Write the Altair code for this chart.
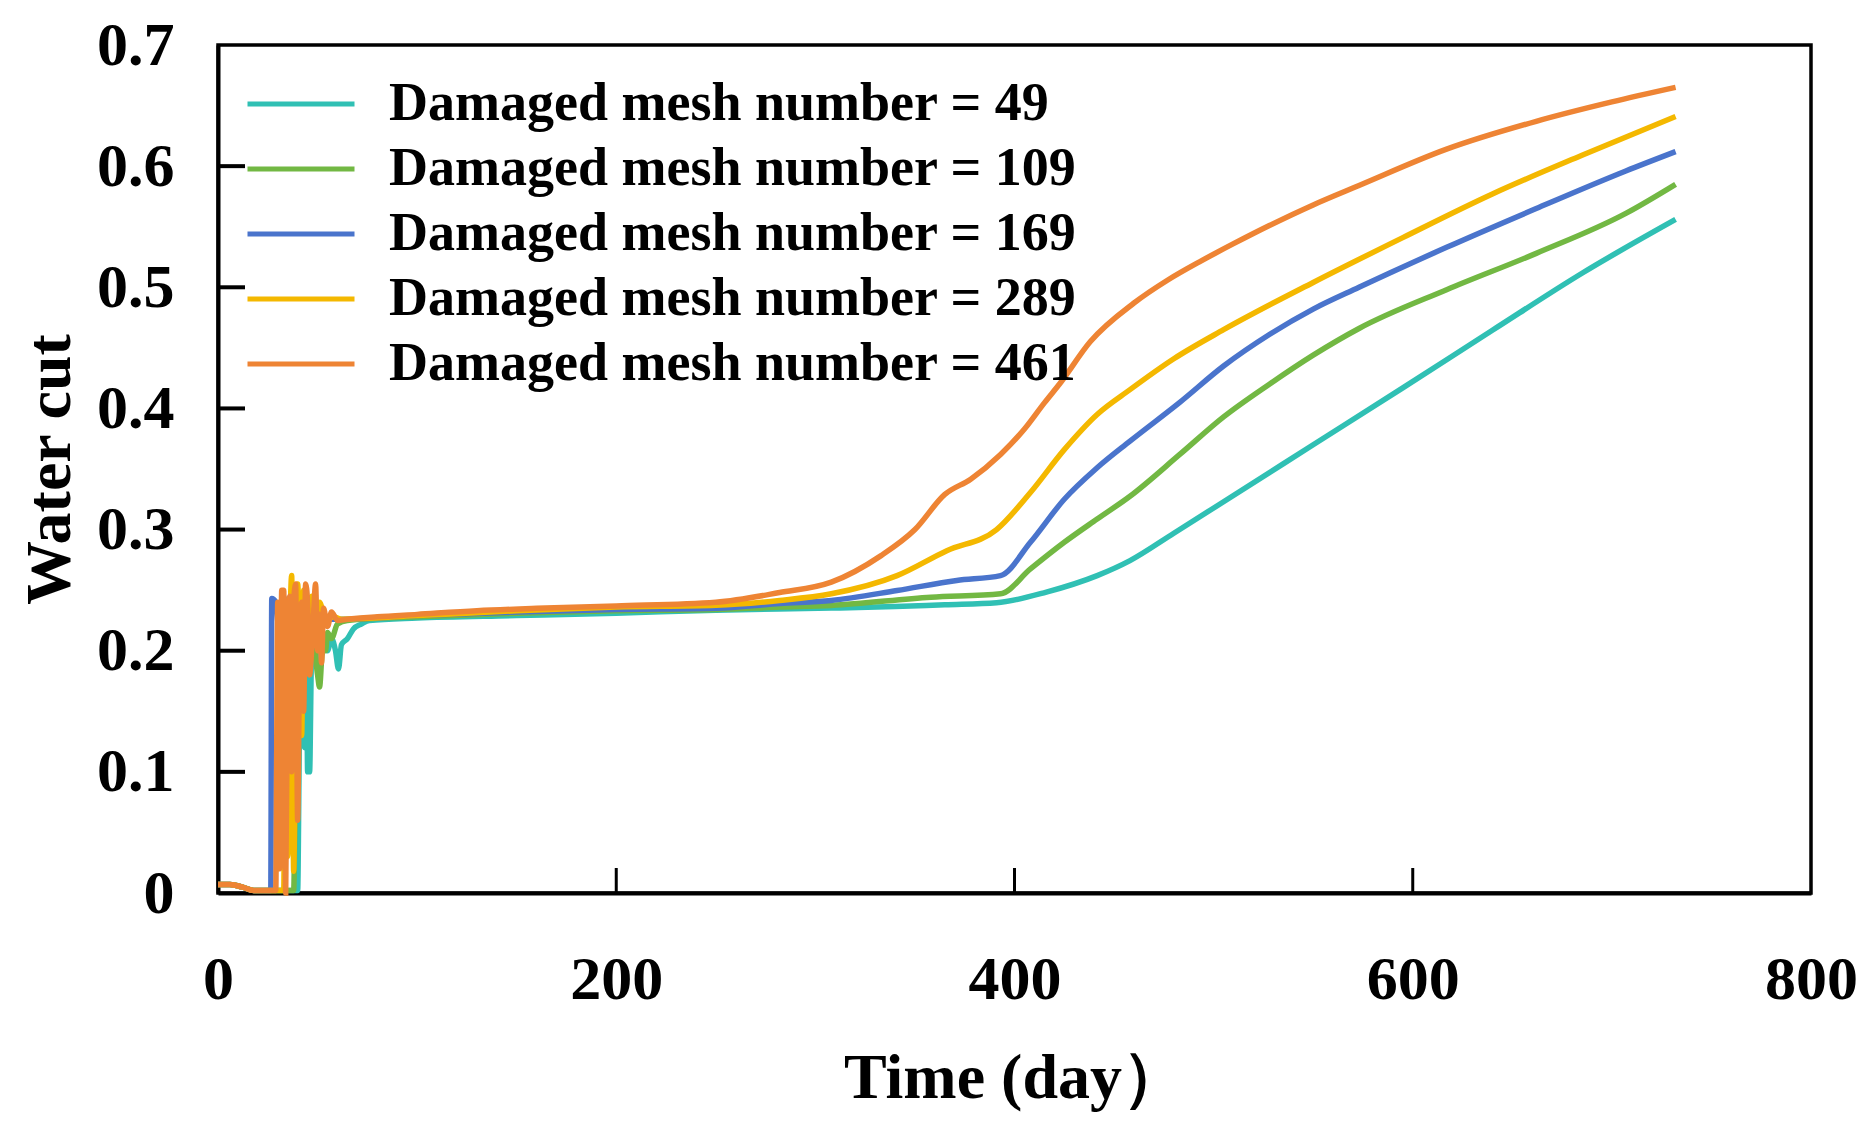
import altair as alt
import pandas as pd

# ---------------- data ----------------
labels = [
    "Damaged mesh number = 49",
    "Damaged mesh number = 109",
    "Damaged mesh number = 169",
    "Damaged mesh number = 289",
    "Damaged mesh number = 461",
]
colors = ["#30C0B4", "#72B843", "#4A74CC", "#F4B800", "#EE8434"]

days_49 = [0, 6, 12, 18, 40, 41, 42, 43.5, 44.5, 45, 46, 47, 49, 51, 53, 55, 57, 59, 60.5, 62, 65,
           68, 72, 76, 100, 150, 200, 250, 308, 340, 365, 391, 416, 441.5, 458, 480, 505, 550, 595,
           640, 685, 732]
wc_49 = [0.007, 0.007, 0.005, 0.002, 0.002, 0.14, 0.16, 0.12, 0.19, 0.10, 0.10, 0.195, 0.20, 0.19,
         0.205, 0.20, 0.21, 0.20, 0.185, 0.205, 0.21, 0.218, 0.222, 0.225, 0.227, 0.229, 0.231,
         0.2335, 0.2352, 0.2365, 0.238, 0.2396, 0.2484, 0.262, 0.2744, 0.297, 0.323, 0.370, 0.417,
         0.4645, 0.5116, 0.556]

days_109 = [0, 6, 12, 18, 38, 39, 40, 42, 44, 46, 48, 50, 51, 52.5, 54, 55, 57, 60, 65, 100, 150,
            200, 250, 282, 308, 358, 393, 408, 425, 441.5, 458, 483, 505, 528, 550, 573, 617, 662,
            707, 732]
wc_109 = [0.007, 0.007, 0.005, 0.002, 0.002, 0.12, 0.19, 0.20, 0.21, 0.19, 0.205, 0.18, 0.17, 0.20,
          0.20, 0.215, 0.21, 0.222, 0.225, 0.228, 0.231, 0.233, 0.234, 0.236, 0.2374, 0.2442,
          0.247, 0.2675, 0.2895, 0.3087, 0.3275, 0.362, 0.393, 0.420, 0.444, 0.466, 0.498, 0.528,
          0.561, 0.585]

days_169 = [0, 6, 12, 18, 26.5, 27, 29, 31, 33, 35, 38, 41, 45, 50, 55, 60, 100, 150, 200, 250,
            282, 308, 341, 371, 393, 408, 425, 441.5, 458, 483, 505, 528, 550, 573, 617, 662, 707,
            732]
wc_169 = [0.007, 0.007, 0.005, 0.002, 0.002, 0.243, 0.24, 0.21, 0.245, 0.22, 0.24, 0.225, 0.235,
          0.228, 0.226, 0.226, 0.229, 0.232, 0.234, 0.235, 0.239, 0.2415, 0.2497, 0.258, 0.262,
          0.2895, 0.325, 0.351, 0.373, 0.405, 0.435, 0.461, 0.482, 0.500, 0.533, 0.565, 0.596,
          0.612]

days_289 = [0, 6, 12, 18, 33, 34, 35, 36, 37, 38, 39, 40, 41, 42, 43, 45, 47, 49, 51, 54, 58, 62,
            100, 150, 200, 250, 282, 308, 341, 366, 391, 408, 425, 441.5, 458, 480, 505, 550, 595,
            640, 685, 732]
wc_289 = [0.007, 0.007, 0.005, 0.002, 0.002, 0.24, 0.03, 0.20, 0.262, 0.018, 0.15, 0.255, 0.20,
          0.13, 0.25, 0.22, 0.245, 0.215, 0.24, 0.225, 0.228, 0.226, 0.229, 0.233, 0.236, 0.2375,
          0.2415, 0.247, 0.262, 0.2826, 0.300, 0.3306, 0.366, 0.395, 0.4155, 0.441, 0.465, 0.504,
          0.541, 0.577, 0.609, 0.641]

days_461 = [0, 6, 12, 18, 29, 30, 31, 32, 33, 34, 35, 36, 37, 38, 39, 40, 41, 42, 43, 44, 45, 46,
            47, 48, 49, 50, 51, 52, 53, 55, 57, 60, 65, 80, 100, 130, 160, 200, 250, 282, 308, 333,
            350, 365, 378, 393, 405, 415, 423, 438, 460, 477, 494, 510, 528, 550, 573, 617, 662,
            700, 732]
wc_461 = [0.007, 0.007, 0.005, 0.002, 0.002, 0.24, 0.02, 0.25, 0.25, 0.0, 0.20, 0.245, 0.10, 0.24,
          0.255, 0.06, 0.20, 0.24, 0.15, 0.255, 0.24, 0.18, 0.20, 0.23, 0.255, 0.20, 0.23, 0.19,
          0.235, 0.22, 0.232, 0.225, 0.226, 0.228, 0.230, 0.233, 0.235, 0.237, 0.240, 0.248,
          0.2566, 0.2785, 0.300, 0.329, 0.3416, 0.362, 0.383, 0.4046, 0.421, 0.455, 0.487, 0.506,
          0.522, 0.536, 0.551, 0.568, 0.584, 0.614, 0.637, 0.653, 0.665]

x_ticks = [0, 200, 400, 600, 800]
y_ticks = [0, 0.1, 0.2, 0.3, 0.4, 0.5, 0.6, 0.7]

# ---------------- build table ----------------
all_days = [days_49, days_109, days_169, days_289, days_461]
all_wc = [wc_49, wc_109, wc_169, wc_289, wc_461]
rows = []
for lab, ds, vs in zip(labels, all_days, all_wc):
    for i, (d, v) in enumerate(zip(ds, vs)):
        rows.append({"series": lab, "day": d, "wc": v, "i": i})
df = pd.DataFrame(rows)

W, H = 1593, 848
FONT = "Liberation Serif"

xscale = alt.Scale(domain=[x_ticks[0], x_ticks[-1]], nice=False, zero=True)
yscale = alt.Scale(domain=[y_ticks[0], y_ticks[-1]], nice=False, zero=True)

x_axis = alt.Axis(
    values=x_ticks, title="Time (day）", grid=False, ticks=False, tickSize=0,
    labelPadding=56, labelFont=FONT, labelFontSize=62, labelFontWeight="bold",
    labelColor="black", labelFlush=False, labelOverlap=False,
    titleFont=FONT, titleFontSize=64, titleFontWeight="bold", titleColor="black",
    titlePadding=36, domainColor="black", domainWidth=4,
)
y_axis = alt.Axis(
    values=y_ticks, title="Water cut", grid=False, ticks=False, tickSize=0,
    labelExpr="datum.value == 0 ? '0' : format(datum.value, '.1f')",
    labelPadding=44, labelFont=FONT, labelFontSize=62, labelFontWeight="bold",
    labelColor="black", labelFlush=False, labelOverlap=False,
    titleFont=FONT, titleFontSize=64, titleFontWeight="bold", titleColor="black",
    titlePadding=14, domainColor="black", domainWidth=4,
)

legend = alt.Legend(
    title=None, orient="none", legendX=27, legendY=29, symbolType="stroke",
    symbolSize=11449, symbolStrokeWidth=5, symbolOpacity=1,
    labelFont=FONT, labelFontSize=54, labelFontWeight="bold", labelColor="black",
    labelOffset=32, clipHeight=60, rowPadding=5, padding=0, labelLimit=0,
)

lines = alt.Chart(df).mark_line(strokeWidth=5.5, interpolate="monotone").encode(
    x=alt.X("day:Q", scale=xscale, axis=x_axis, title="Time (day）"),
    y=alt.Y("wc:Q", scale=yscale, axis=y_axis, title="Water cut"),
    color=alt.Color("series:N", scale=alt.Scale(domain=labels, range=colors),
                    sort=labels, legend=legend),
    order="i:Q",
)

xt_df = pd.DataFrame({"t": x_ticks[1:-1]})
yt_df = pd.DataFrame({"v": y_ticks[1:-1]})

x_inner_ticks = alt.Chart(xt_df).mark_rule(color="black", strokeWidth=3).encode(
    x=alt.X("t:Q", scale=xscale, axis=x_axis, title="Time (day）"),
    y=alt.value(H),
    y2=alt.value(H - 25),
)
y_inner_ticks = alt.Chart(yt_df).mark_rule(color="black", strokeWidth=4).encode(
    y=alt.Y("v:Q", scale=yscale, axis=y_axis, title="Water cut"),
    x=alt.value(0),
    x2=alt.value(27),
)

chart = alt.layer(lines, x_inner_ticks, y_inner_ticks).properties(
    width=W, height=H, background="white",
    padding={"left": 10, "top": 6, "right": 5, "bottom": 5},
).configure_view(stroke="black", strokeWidth=3.5)

chart.save("out.html", embed_options={"renderer": "svg", "actions": False})
